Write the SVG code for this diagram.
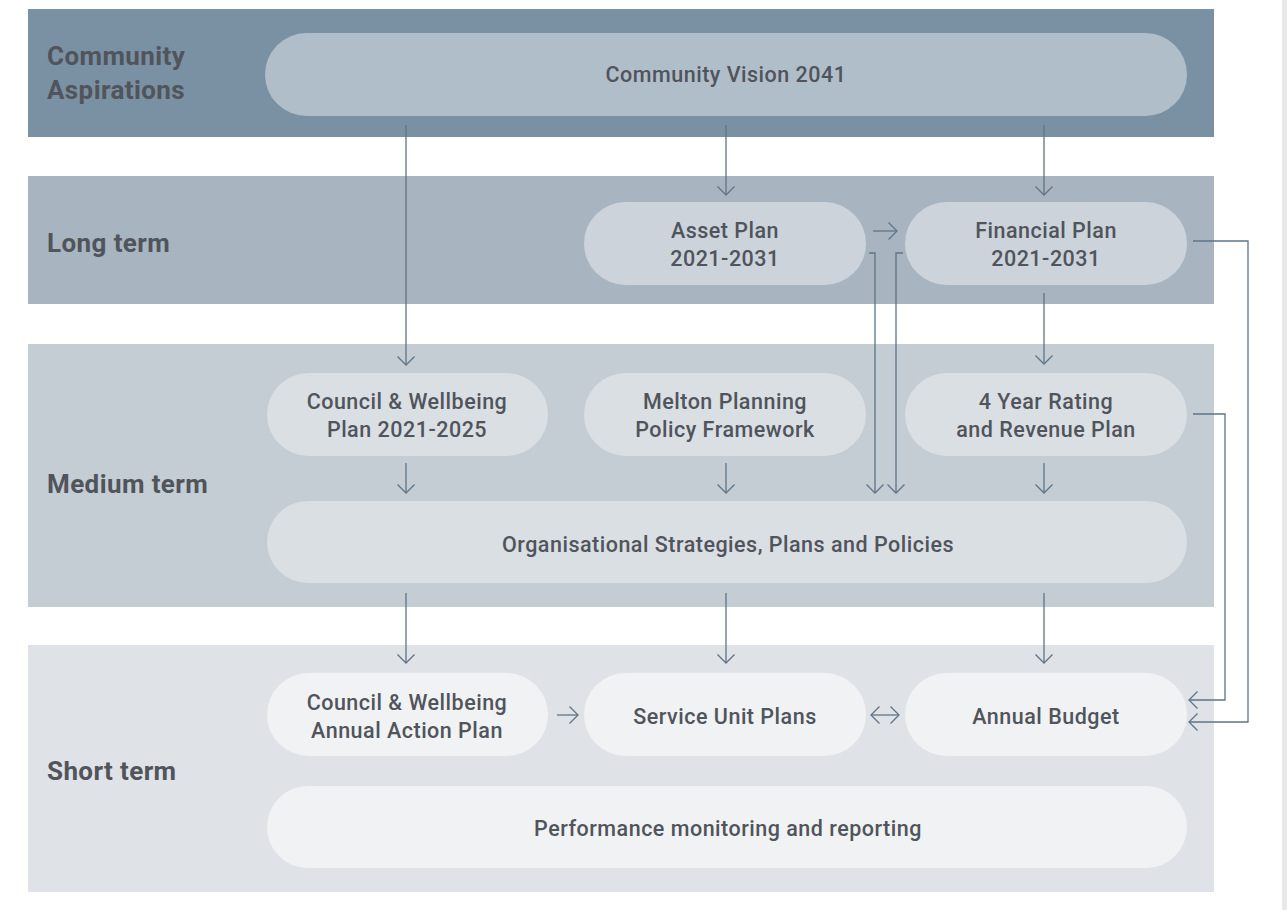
<svg xmlns="http://www.w3.org/2000/svg" width="1287" height="910" viewBox="0 0 1287 910">
<style>
.lbl{font-family:Roboto,"Liberation Sans",sans-serif;font-weight:700;font-size:26px;letter-spacing:0.4px;fill:#50545b}
.t{font-family:Roboto,"Liberation Sans",sans-serif;font-weight:500;font-size:21.5px;letter-spacing:0.5px;fill:#50545b;text-anchor:middle}
.c{fill:none;stroke:#5f7486;stroke-width:1.3}
</style>
<defs>
<marker id="ah" viewBox="-10 -10 20 20" refX="0" refY="0" markerWidth="20" markerHeight="20" markerUnits="userSpaceOnUse" orient="auto-start-reverse">
<path d="M-8.5,-8.5 L0,0 L-8.5,8.5" fill="none" stroke="#5f7486" stroke-width="1.3"/>
</marker>
</defs>
<rect width="1287" height="910" fill="#ffffff"/>
<rect x="1282" y="0" width="5" height="910" fill="#e8e8e8"/>
<g id="bands">
<rect x="28" y="9" width="1186" height="128" fill="#7a90a3"/>
<rect x="28" y="176" width="1186" height="128" fill="#a8b5c1"/>
<rect x="28" y="344" width="1186" height="263" fill="#c4ccd4"/>
<rect x="28" y="645" width="1186" height="247" fill="#dfe2e7"/>
<text class="lbl" x="47" y="65">Community</text>
<text class="lbl" x="47" y="99">Aspirations</text>
<text class="lbl" x="47" y="252">Long term</text>
<text class="lbl" x="47" y="493">Medium term</text>
<text class="lbl" x="47" y="780">Short term</text>
</g>
<g id="vision"><rect x="265" y="33" width="922" height="83" rx="41.5" fill="#b0bec9"/><text class="t" x="726" y="82">Community Vision 2041</text></g>
<g id="asset"><rect x="584" y="202" width="282" height="83" rx="41.5" fill="#ccd3db"/><text class="t" x="725" y="238">Asset Plan</text><text class="t" x="725" y="266">2021-2031</text></g>
<g id="financial"><rect x="905" y="202" width="282" height="83" rx="41.5" fill="#ccd3db"/><text class="t" x="1046" y="238">Financial Plan</text><text class="t" x="1046" y="266">2021-2031</text></g>
<g id="cwplan"><rect x="267" y="373" width="281" height="83" rx="41.5" fill="#dadfe4"/><text class="t" x="407" y="409">Council &amp; Wellbeing</text><text class="t" x="407" y="437">Plan 2021-2025</text></g>
<g id="melton"><rect x="584" y="373" width="282" height="83" rx="41.5" fill="#dadfe4"/><text class="t" x="725" y="409">Melton Planning</text><text class="t" x="725" y="437">Policy Framework</text></g>
<g id="rating"><rect x="905" y="373" width="282" height="83" rx="41.5" fill="#dadfe4"/><text class="t" x="1046" y="409">4 Year Rating</text><text class="t" x="1046" y="437">and Revenue Plan</text></g>
<g id="org"><rect x="267" y="501" width="920" height="82" rx="41" fill="#dadfe4"/><text class="t" x="728" y="552">Organisational Strategies, Plans and Policies</text></g>
<g id="action"><rect x="267" y="673" width="281" height="83" rx="41.5" fill="#f1f2f4"/><text class="t" x="407" y="710">Council &amp; Wellbeing</text><text class="t" x="407" y="738">Annual Action Plan</text></g>
<g id="service"><rect x="584" y="673" width="282" height="83" rx="41.5" fill="#f1f2f4"/><text class="t" x="725" y="724">Service Unit Plans</text></g>
<g id="budget"><rect x="905" y="673" width="282" height="83" rx="41.5" fill="#f1f2f4"/><text class="t" x="1046" y="724">Annual Budget</text></g>
<g id="perf"><rect x="267" y="786" width="920" height="82" rx="41" fill="#f1f2f4"/><text class="t" x="728" y="836">Performance monitoring and reporting</text></g>
<g id="connectors">
<path class="c" d="M406,125 V365" marker-end="url(#ah)"/>
<path class="c" d="M726,125 V195" marker-end="url(#ah)"/>
<path class="c" d="M1044,125 V195" marker-end="url(#ah)"/>
<path class="c" d="M873,231 H897" marker-end="url(#ah)"/>
<path class="c" d="M869,253 H875 V493" marker-end="url(#ah)"/>
<path class="c" d="M903,253 H896 V493" marker-end="url(#ah)"/>
<path class="c" d="M1044,293 V364" marker-end="url(#ah)"/>
<path class="c" d="M1193,241 H1248 V722 H1189" marker-end="url(#ah)"/>
<path class="c" d="M1193,414 H1225 V700 H1189" marker-end="url(#ah)"/>
<path class="c" d="M406,463 V493" marker-end="url(#ah)"/>
<path class="c" d="M726,463 V493" marker-end="url(#ah)"/>
<path class="c" d="M1044,463 V493" marker-end="url(#ah)"/>
<path class="c" d="M406,593 V663" marker-end="url(#ah)"/>
<path class="c" d="M726,593 V663" marker-end="url(#ah)"/>
<path class="c" d="M1044,593 V663" marker-end="url(#ah)"/>
<path class="c" d="M557,715 H578" marker-end="url(#ah)"/>
<path class="c" d="M871,715 H899" marker-start="url(#ah)" marker-end="url(#ah)"/>
</g>
</svg>
